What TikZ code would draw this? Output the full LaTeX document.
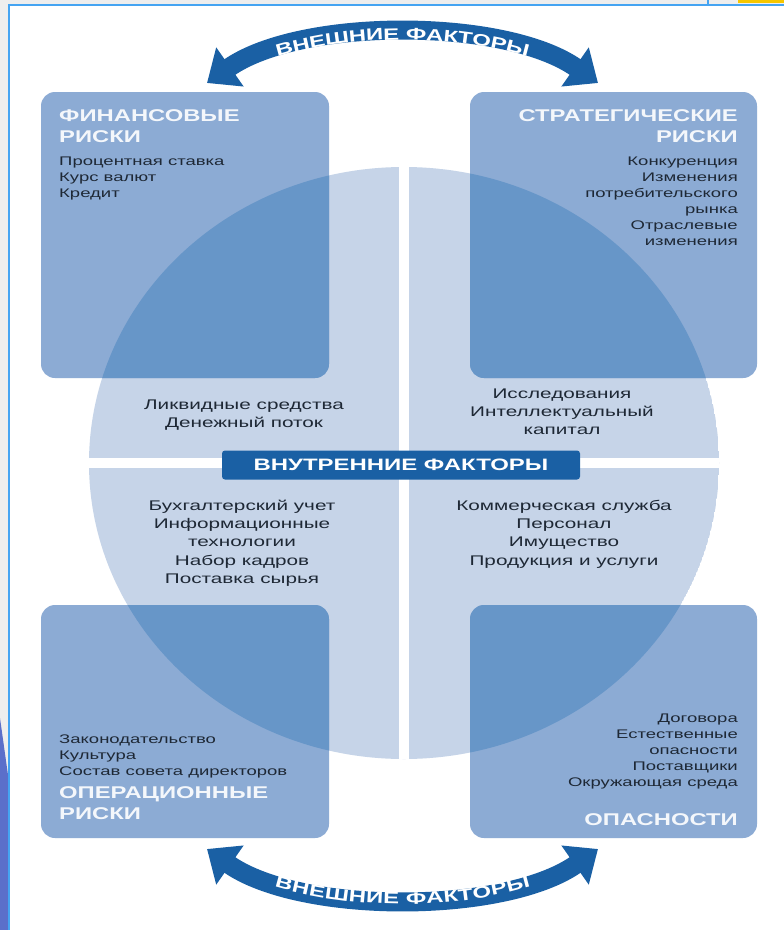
\documentclass[tikz,border=0pt]{standalone}
\usepackage{fontspec}
\setmainfont{Liberation Sans}
\newfontfamily\widesans[FakeStretch=1.48]{Liberation Sans}
\newfontfamily\widehead[FakeStretch=1.40]{Liberation Sans}
\newfontfamily\widelabel[FakeStretch=1.45]{Liberation Sans}
\usetikzlibrary{arrows.meta, decorations.text, positioning}

\definecolor{ringfill}{HTML}{C6D4E8}
\definecolor{boxfill}{HTML}{8CABD4}
\definecolor{overlap}{HTML}{6796C8}
\definecolor{deepblue}{HTML}{1A60A4}
\definecolor{inktext}{HTML}{1E2835}
\definecolor{headwhite}{HTML}{F4F7FB}
\definecolor{frameblue}{HTML}{45A4F2}
\definecolor{framegray}{HTML}{EEEEEE}
\definecolor{wedgeblue}{HTML}{5B6FCA}
\definecolor{cornyellow}{HTML}{F6C700}

\begin{document}
\begin{tikzpicture}[
        x=1pt, y=1pt,
        riskbox/.style={rectangle, rounded corners=14pt, fill=boxfill, inner sep=0pt, outer sep=0pt},
        headtext/.style={text=headwhite, inner sep=0pt, font=\widehead\bfseries\fontsize{17}{20.5}\selectfont},
        boxtext/.style={text=inktext, inner sep=0pt, font=\widesans\fontsize{12.5}{16}\selectfont},
        ringtext/.style={text=inktext, inner sep=0pt, align=center, font=\widesans\fontsize{14}{18.4}\selectfont},
        innerlabel/.style={fill=deepblue, rounded corners=3pt, minimum width=358pt, minimum height=29pt,
            text=white, font=\widelabel\bfseries\fontsize{16.5}{18}\selectfont},
        outerarrow/.style={draw=deepblue, line width=19pt,
            {Triangle[length=28pt,width=46pt]}-{Triangle[length=28pt,width=46pt]}},
        arrowtext/.style={decorate, decoration={text along path, text align=center, raise=-5.9pt,
            text={|\widelabel\bfseries\fontsize{16.5}{18}\selectfont\color{white}|ВНЕШНИЕ ФАКТОРЫ}}}
    ]
    \useasboundingbox (0,0) rectangle (784,-930);

    % screen frame
    \fill[white] (0,0) rectangle (784,-930);
    \fill[framegray] (0,0) rectangle (784,-5);
    \fill[framegray] (0,0) rectangle (8,-930);
    \fill[cornyellow] (738,0) rectangle (784,-3);
    \fill[wedgeblue] (0,-718) -- (8,-775) -- (8,-930) -- (0,-930) -- cycle;
    \draw[frameblue, line width=2pt] (9,-930) -- (9,-5) -- (784,-5);
    \draw[frameblue, line width=1.5pt] (708,0) -- (708,-5);

    % circle of internal factors
    \coordinate (ctr) at (404,-463);
    \begin{scope}
        \clip (ctr) ellipse [x radius=315pt, y radius=296pt];
        \fill[ringfill] (ctr) ellipse [x radius=315pt, y radius=296pt];
        \fill[white] (399,-150) rectangle (409,-780);
        \fill[white] (70,-458) rectangle (740,-468);
    \end{scope}

    % risk boxes
    \node[riskbox, minimum width=288pt, minimum height=286pt] (fin) at (185,-235) {};
    \node[riskbox, minimum width=287pt, minimum height=286pt] (strat) at (613.5,-235) {};
    \node[riskbox, minimum width=288pt, minimum height=233pt] (oper) at (185,-721.5) {};
    \node[riskbox, minimum width=287pt, minimum height=233pt] (haz) at (613.5,-721.5) {};

    % where boxes and circle overlap
    \begin{scope}
        \clip[rounded corners=14pt] (fin.north west) rectangle (fin.south east);
        \fill[overlap] (ctr) ellipse [x radius=315pt, y radius=296pt];
    \end{scope}
    \begin{scope}
        \clip[rounded corners=14pt] (strat.north west) rectangle (strat.south east);
        \fill[overlap] (ctr) ellipse [x radius=315pt, y radius=296pt];
    \end{scope}
    \begin{scope}
        \clip[rounded corners=14pt] (oper.north west) rectangle (oper.south east);
        \fill[overlap] (ctr) ellipse [x radius=315pt, y radius=296pt];
    \end{scope}
    \begin{scope}
        \clip[rounded corners=14pt] (haz.north west) rectangle (haz.south east);
        \fill[overlap] (ctr) ellipse [x radius=315pt, y radius=296pt];
    \end{scope}

    % box texts (base = last line)
    \node[headtext, anchor=base west, align=left] (finhead) at (59,-142) {ФИНАНСОВЫЕ\\РИСКИ};
    \node[boxtext, anchor=base west, align=left] (finlist) at (59,-197.5) {Процентная ставка\\Курс валют\\Кредит};
    \node[headtext, anchor=base east, align=right] (strathead) at (738,-142) {СТРАТЕГИЧЕСКИЕ\\РИСКИ};
    \node[boxtext, anchor=base east, align=right] (stratlist) at (738,-245.5) {Конкуренция\\Изменения\\потребительского\\рынка\\Отраслевые\\изменения};
    \node[boxtext, anchor=base west, align=left] (operlist) at (59,-775.5) {Законодательство\\Культура\\Состав совета директоров};
    \node[headtext, anchor=base west, align=left] (operhead) at (59,-819) {ОПЕРАЦИОННЫЕ\\РИСКИ};
    \node[boxtext, anchor=base east, align=right] (hazlist) at (738,-786) {Договора\\Естественные\\опасности\\Поставщики\\Окружающая среда};
    \node[headtext, anchor=base east] (hazhead) at (738,-825.5) {ОПАСНОСТИ};

    % circle texts
    \node[ringtext, anchor=base] (liq) at (244,-427.4) {Ликвидные средства\\Денежный поток};
    \node[ringtext, anchor=base] (res) at (562,-434.8) {Исследования\\Интеллектуальный\\капитал};
    \node[ringtext, anchor=base] (acc) at (242,-583.6) {Бухгалтерский учет\\Информационные\\технологии\\Набор кадров\\Поставка сырья};
    \node[ringtext, anchor=base] (com) at (564,-565.2) {Коммерческая служба\\Персонал\\Имущество\\Продукция и услуги};
    \node[innerlabel] (inner) at (401,-465) {ВНУТРЕННИЕ ФАКТОРЫ};

    % external factors
    \coordinate (topL) at (207,-83);
    \coordinate (topR) at (598,-83);
    \coordinate (botL) at (207,-849);
    \coordinate (botR) at (598,-849);
    \draw[outerarrow] (topL) to[bend left=35, looseness=0.75] (topR);
    \path[arrowtext] (topL) to[bend left=35, looseness=0.75] (topR);
    \draw[outerarrow] (botL) to[bend right=35, looseness=0.75] (botR);
    \path[arrowtext] (botL) to[bend right=35, looseness=0.75] (botR);

\end{tikzpicture}
\end{document}
